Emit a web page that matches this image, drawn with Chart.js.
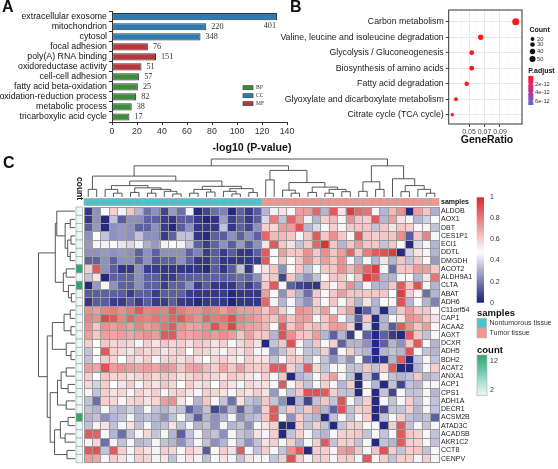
<!DOCTYPE html>
<html>
<head>
<meta charset="utf-8">
<title>GO, KEGG and heatmap</title>
<script src="https://cdn.jsdelivr.net/npm/chart.js@4.4.1/dist/chart.umd.min.js"></script>
<style>
html,body{margin:0;padding:0;background:#fff;}
#wrap{position:relative;width:558px;height:469px;overflow:hidden;background:#fff;}
canvas{position:absolute;display:block;}
</style>
</head>
<body>
<div id="wrap">
<canvas id="cA" width="300" height="155" style="left:0;top:0"></canvas>
<canvas id="cB" width="288" height="155" style="left:270px;top:0"></canvas>
<canvas id="cC" width="558" height="319" style="left:0;top:150px"></canvas>
</div>
<script>
const F = "'Liberation Sans', Arial, Helvetica, sans-serif";
const FS = "'Liberation Serif', 'Times New Roman', serif";
Chart.defaults.font.family = F;
Chart.defaults.color = '#222';

/* ---------------- Panel A : GO terms ---------------- */
const goTerms = ['extracellular exosome','mitochondrion','cytosol','focal adhesion','poly(A) RNA binding','oxidoreductase activity','cell-cell adhesion','fatty acid beta-oxidation','oxidation-reduction process','metabolic process','tricarboxylic acid cycle'];
const goLogP = [132, 75.4, 70.8, 28.7, 35.2, 23.6, 21.7, 20.7, 19.3, 15.8, 13.9];
const goGeneCounts = [401, 220, 348, 76, 151, 51, 57, 25, 82, 38, 17];
const goClass = ['CC','CC','CC','MF','MF','MF','BP','BP','BP','BP','BP'];
const goClassOrder = ['BP','CC','MF'];
const goClassColor = {BP:'#3d8c3b', CC:'#2b7cb3', MF:'#b8373c'};

/* ---------------- Panel B : KEGG dot plot ---------------- */
const keggTerms = ['Carbon metabolism','Valine, leucine and isoleucine degradation','Glycolysis / Gluconeogenesis','Biosynthesis of amino acids','Fatty acid degradation','Glyoxylate and dicarboxylate metabolism','Citrate cycle (TCA cycle)'];
const keggRatio = [0.1103, 0.0651, 0.0535, 0.0535, 0.047, 0.0332, 0.0285];
const keggCount = [50, 30, 24, 24, 21, 15, 13];
const keggPadj = [2.1e-19, 5.6e-15, 3.9e-14, 8.1e-14, 1.6e-13, 2.9e-13, 4.4e-13];
const ratioMajorTicks = [0.05, 0.07, 0.09];
const ratioMinorTicks = [0.03, 0.04, 0.06, 0.08, 0.10, 0.11];
const countLegendValues = [20, 30, 40, 50];
const padjLegendValues = [2e-12, 4e-12, 6e-12];
const padjLegendLabels = ['2e-12', '4e-12', '6e-12'];

/* ---------------- Panel C : heatmap ---------------- */
const sampleIds = ['N1','N2','N3','N4','N5','N6','N7','N8','N9','N10','N11','N12','N13','N14','N15','N16','N17','N18','N19','N20','N21',
                   'T1','T2','T3','T4','T5','T6','T7','T8','T9','T10','T11','T12','T13','T14','T15','T16','T17','T18','T19','T20','T21'];
const sampleGroupNames = ['Nontumorous tissue','Tumor tissue'];
const sampleGroupColors = ['#48c4cf','#f3958f'];
const geneNames = ['ALDOB','AOX1','DBT','CES1P1','ECI1','DDTL','DMGDH','ACOT2','ALDH9A1','CLTA','ABAT','ADH6','C11orf54','CAP1','ACAA2','AGXT','DCXR','ADH5','BDH2','ACAT2','ANXA1','ACP1','CPS1','ADH1A','DECR1','ACSM2B','ATAD3C','ACADSB','AKR1C2','CCT8','CENPV'];
const geneCounts = [2,2,2,2,2,2,2,12,2,12,2,2,2,2,2,2,2,2,2,2,2,2,2,2,2,12,2,2,2,2,2];
const heatTicks = [1, 0.8, 0.6, 0.4, 0.2, 0];
const countTicks = [12, 2];

const hm_ALDOB = [0.05,0.24,0.47,0.6,0.45,0.62,0.32,0.17,0.24,0.08,0.26,0.17,0.45,0.02,0.08,0.17,0.21,0.02,0.14,0.06,0.13,
                  0.32,0.45,0.55,0.46,0.72,0.72,0.85,0.32,0.88,0.55,0.95,0.85,0.82,0.46,0.32,0.65,0.75,0.02,0.72,0.62,0.31];
const hm_AOX1 = [0.05,0.24,0.02,0.35,0.13,0.24,0.24,0.14,0.14,0.06,0.05,0.13,0.13,0.05,0.01,0.04,0.27,0.07,0.13,0.06,0.13,
                 0.4,0.8,0.35,0.85,0.72,0.45,0.32,0.6,0.65,0.46,0.75,0.62,0.6,0.88,0.32,0.72,0.55,0.46,0.32,0.38,0.47];
const hm_DBT = [0.13,0.26,0.02,0.24,0.26,0.24,0.14,0.14,0.24,0.06,0.02,0.13,0.24,0.05,0.05,0.05,0.35,0.05,0.14,0.08,0.24,
                0.6,0.58,0.72,0.72,0.9,0.32,0.4,0.46,0.6,0.46,0.62,0.62,0.62,0.35,0.62,0.55,0.62,0.6,0.5,0.46,0.35];
const hm_CES1P1 = [0.24,0.47,0.35,0.24,0.26,0.24,0.35,0.24,0.24,0.06,0.14,0.35,0.35,0.05,0.02,0.14,0.13,0.24,0.14,0.24,0.14,
                   0.85,0.65,0.65,0.62,0.46,0.62,0.88,0.62,0.75,0.62,0.46,0.88,0.62,0.6,0.62,0.62,0.75,0.13,0.62,0.78,0.46];
const hm_ECI1 = [0.26,0.46,0.45,0.47,0.43,0.4,0.45,0.31,0.26,0.45,0.47,0.45,0.35,0.14,0.06,0.14,0.24,0.13,0.26,0.13,0.24,
                 0.55,0.88,0.62,0.55,0.35,0.62,0.85,0.98,0.62,0.32,0.62,0.72,0.62,0.62,0.35,0.62,0.46,0.02,0.4,0.46,0.32];
const hm_DDTL = [0.24,0.24,0.26,0.24,0.26,0.24,0.14,0.24,0.14,0.24,0.24,0.24,0.14,0.21,0.06,0.13,0.06,0.13,0.05,0.05,0.14,
                 0.88,0.5,0.72,0.62,0.62,0.75,0.62,0.75,0.62,0.72,0.85,0.62,0.8,0.88,0.9,0.95,0.02,0.38,0.55,0.46,0.32];
const hm_DMGDH = [0.14,0.14,0.24,0.14,0.24,0.24,0.14,0.24,0.11,0.14,0.14,0.24,0.14,0.05,0.05,0.13,0.05,0.05,0.05,0.05,0.06,
                  0.88,0.48,0.62,0.5,0.62,0.75,0.62,0.72,0.62,0.75,0.46,0.32,0.46,0.32,0.55,0.32,0.62,0.35,0.62,0.5,0.26];
const hm_ACOT2 = [0.6,0.88,0.24,0.13,0.05,0.05,0.24,0.06,0.06,0.05,0.05,0.05,0.04,0.05,0.02,0.13,0.05,0.13,0.35,0.05,0.46,
                  0.55,0.62,0.24,0.5,0.62,0.35,0.46,0.62,0.62,0.75,0.65,0.75,0.85,0.95,0.46,0.17,0.62,0.62,0.72,0.72,0.62];
const hm_ALDH9A1 = [0.35,0.55,0.02,0.14,0.14,0.14,0.24,0.14,0.14,0.06,0.06,0.13,0.13,0.14,0.13,0.14,0.13,0.14,0.17,0.14,0.24,
                    0.58,0.62,0.08,0.62,0.32,0.24,0.35,0.5,0.62,0.62,0.46,0.62,0.95,0.88,0.32,0.32,0.46,0.5,0.32,0.55,0.82];
const hm_CLTA = [0.02,0.26,0.46,0.24,0.14,0.14,0.24,0.14,0.14,0.06,0.14,0.14,0.24,0.06,0.13,0.05,0.05,0.05,0.14,0.06,0.14,
                 0.62,0.88,0.46,0.14,0.08,0.06,0.05,0.6,0.46,0.62,0.75,0.32,0.46,0.32,0.32,0.62,0.88,0.62,0.9,0.46,0.32];
const hm_ABAT = [0.13,0.13,0.14,0.14,0.13,0.06,0.14,0.13,0.06,0.13,0.13,0.14,0.06,0.05,0.05,0.05,0.06,0.02,0.05,0.05,0.05,
                 0.72,0.5,0.24,0.62,0.32,0.17,0.62,0.46,0.62,0.72,0.62,0.62,0.62,0.62,0.62,0.48,0.95,0.6,0.46,0.17,0.32];
const hm_ADH6 = [0.05,0.13,0.13,0.06,0.06,0.13,0.06,0.13,0.06,0.06,0.13,0.06,0.05,0.02,0.05,0.06,0.05,0.01,0.05,0.05,0.05,
                 0.85,0.45,0.32,0.46,0.32,0.24,0.6,0.46,0.62,0.46,0.62,0.32,0.55,0.32,0.46,0.46,0.9,0.32,0.5,0.32,0.21];
const hm_C11orf54 = [0.75,0.72,0.78,0.8,0.75,0.8,0.88,0.78,0.8,0.78,0.88,0.8,0.75,0.75,0.8,0.78,0.72,0.78,0.72,0.72,0.7,
                     0.62,0.72,0.6,0.46,0.75,0.72,0.62,0.72,0.46,0.62,0.72,0.02,0.14,0.32,0.02,0.32,0.62,0.72,0.62,0.62,0.46];
const hm_CAP1 = [0.78,0.75,0.92,0.88,0.78,0.85,0.8,0.78,0.82,0.8,0.85,0.88,0.8,0.75,0.85,0.8,0.82,0.9,0.78,0.75,0.72,
                 0.65,0.62,0.75,0.62,0.72,0.72,0.46,0.62,0.72,0.46,0.35,0.14,0.62,0.02,0.32,0.46,0.55,0.75,0.72,0.62,0.55];
const hm_ACAA2 = [0.75,0.62,0.75,0.72,0.75,0.72,0.78,0.72,0.75,0.82,0.88,0.75,0.7,0.72,0.75,0.9,0.78,0.92,0.75,0.72,0.7,
                  0.65,0.5,0.88,0.62,0.72,0.62,0.65,0.62,0.72,0.72,0.6,0.02,0.4,0.02,0.32,0.13,0.88,0.75,0.62,0.72,0.46];
const hm_AGXT = [0.72,0.62,0.72,0.7,0.72,0.7,0.72,0.75,0.72,0.88,0.88,0.72,0.7,0.72,0.75,0.72,0.75,0.72,0.62,0.72,0.62,
                 0.62,0.32,0.9,0.75,0.62,0.62,0.72,0.32,0.14,0.32,0.06,0.46,0.14,0.02,0.14,0.06,0.02,0.88,0.62,0.35,0.46];
const hm_DCXR = [0.6,0.48,0.62,0.58,0.6,0.58,0.46,0.6,0.55,0.62,0.58,0.6,0.56,0.62,0.6,0.55,0.6,0.46,0.58,0.62,0.55,
                 0.02,0.35,0.62,0.9,0.46,0.35,0.62,0.46,0.6,0.14,0.32,0.32,0.24,0.02,0.14,0.32,0.24,0.62,0.88,0.46,0.32];
const hm_ADH5 = [0.35,0.48,0.88,0.6,0.58,0.55,0.62,0.58,0.6,0.55,0.58,0.62,0.48,0.6,0.58,0.55,0.46,0.58,0.55,0.62,0.46,
                 0.46,0.26,0.35,0.6,0.46,0.35,0.35,0.6,0.14,0.46,0.6,0.35,0.32,0.02,0.32,0.35,0.32,0.9,0.46,0.35,0.32];
const hm_BDH2 = [0.35,0.48,0.6,0.58,0.48,0.6,0.55,0.6,0.46,0.58,0.6,0.56,0.6,0.55,0.48,0.58,0.6,0.55,0.46,0.6,0.55,
                 0.55,0.35,0.46,0.62,0.6,0.35,0.46,0.35,0.24,0.35,0.24,0.46,0.14,0.02,0.05,0.32,0.88,0.02,0.35,0.46,0.35];
const hm_ACAT2 = [0.72,0.7,0.9,0.72,0.75,0.72,0.7,0.72,0.7,0.75,0.72,0.62,0.7,0.72,0.65,0.6,0.7,0.62,0.72,0.62,0.6,
                  0.62,0.88,0.88,0.6,0.35,0.88,0.58,0.35,0.46,0.46,0.35,0.35,0.62,0.35,0.6,0.88,0.02,0.02,0.32,0.46,0.6];
const hm_ANXA1 = [0.6,0.48,0.62,0.58,0.6,0.55,0.58,0.62,0.58,0.62,0.6,0.55,0.58,0.62,0.6,0.58,0.55,0.62,0.58,0.55,0.46,
                  0.6,0.46,0.62,0.02,0.32,0.35,0.46,0.62,0.72,0.46,0.35,0.02,0.35,0.08,0.46,0.35,0.32,0.35,0.62,0.32,0.35];
const hm_ACP1 = [0.58,0.38,0.6,0.48,0.55,0.6,0.46,0.58,0.55,0.62,0.58,0.48,0.6,0.55,0.58,0.48,0.6,0.55,0.46,0.58,0.55,
                 0.55,0.46,0.88,0.46,0.6,0.35,0.46,0.6,0.46,0.32,0.6,0.02,0.46,0.32,0.02,0.35,0.08,0.35,0.32,0.46,0.46];
const hm_CPS1 = [0.46,0.35,0.6,0.55,0.58,0.46,0.6,0.55,0.6,0.46,0.58,0.6,0.55,0.46,0.6,0.58,0.55,0.46,0.58,0.55,0.6,
                 0.55,0.26,0.46,0.35,0.62,0.9,0.9,0.88,0.6,0.35,0.35,0.02,0.46,0.02,0.35,0.08,0.46,0.35,0.35,0.46,0.32];
const hm_ADH1A = [0.35,0.17,0.6,0.58,0.46,0.58,0.6,0.55,0.58,0.72,0.75,0.55,0.48,0.32,0.62,0.46,0.35,0.17,0.55,0.35,0.32,
                  0.62,0.35,0.24,0.02,0.32,0.08,0.35,0.62,0.35,0.9,0.46,0.35,0.6,0.02,0.46,0.35,0.46,0.6,0.35,0.46,0.35];
const hm_DECR1 = [0.35,0.32,0.46,0.35,0.32,0.38,0.32,0.46,0.35,0.32,0.38,0.35,0.14,0.24,0.35,0.08,0.17,0.32,0.14,0.32,0.24,
                  0.6,0.88,0.35,0.62,0.35,0.62,0.72,0.32,0.14,0.9,0.35,0.6,0.62,0.02,0.08,0.35,0.35,0.6,0.32,0.46,0.35];
const hm_ACSM2B = [0.32,0.35,0.24,0.32,0.35,0.46,0.32,0.35,0.32,0.24,0.35,0.46,0.32,0.14,0.32,0.24,0.32,0.46,0.24,0.32,0.35,
                   0.62,0.88,0.46,0.24,0.6,0.35,0.32,0.02,0.35,0.46,0.35,0.46,0.6,0.02,0.35,0.46,0.6,0.35,0.32,0.35,0.14];
const hm_ATAD3C = [0.35,0.46,0.55,0.35,0.46,0.55,0.35,0.46,0.32,0.35,0.55,0.35,0.46,0.32,0.35,0.24,0.46,0.32,0.35,0.24,0.46,
                   0.55,0.6,0.02,0.02,0.6,0.35,0.6,0.35,0.02,0.35,0.6,0.6,0.46,0.46,0.02,0.6,0.88,0.35,0.46,0.35,0.46];
const hm_ACADSB = [0.88,0.86,0.46,0.32,0.17,0.35,0.46,0.58,0.35,0.46,0.32,0.14,0.35,0.46,0.32,0.35,0.24,0.46,0.35,0.32,0.55,
                   0.46,0.6,0.02,0.35,0.6,0.46,0.35,0.32,0.46,0.6,0.6,0.62,0.35,0.46,0.35,0.46,0.88,0.62,0.6,0.46,0.35];
const hm_AKR1C2 = [0.46,0.58,0.17,0.46,0.35,0.46,0.32,0.35,0.46,0.35,0.32,0.24,0.35,0.46,0.35,0.24,0.32,0.46,0.35,0.24,0.35,
                   0.55,0.6,0.46,0.6,0.32,0.46,0.6,0.88,0.35,0.6,0.6,0.35,0.46,0.02,0.35,0.32,0.88,0.6,0.6,0.46,0.35];
const hm_CCT8 = [0.88,0.9,0.35,0.88,0.6,0.46,0.6,0.55,0.46,0.6,0.58,0.46,0.6,0.55,0.13,0.46,0.6,0.55,0.88,0.46,0.35,
                 0.6,0.46,0.35,0.75,0.88,0.02,0.6,0.6,0.46,0.72,0.75,0.62,0.46,0.62,0.9,0.6,0.35,0.6,0.62,0.35,0.46];
const hm_CENPV = [0.72,0.7,0.46,0.6,0.55,0.46,0.6,0.58,0.46,0.55,0.35,0.46,0.55,0.46,0.35,0.46,0.55,0.46,0.35,0.55,0.46,
                  0.46,0.35,0.6,0.9,0.6,0.46,0.6,0.6,0.46,0.6,0.6,0.46,0.88,0.46,0.6,0.35,0.6,0.6,0.46,0.6,0.46];

const heatRows = [hm_ALDOB,hm_AOX1,hm_DBT,hm_CES1P1,hm_ECI1,hm_DDTL,hm_DMGDH,hm_ACOT2,hm_ALDH9A1,hm_CLTA,hm_ABAT,hm_ADH6,
  hm_C11orf54,hm_CAP1,hm_ACAA2,hm_AGXT,hm_DCXR,hm_ADH5,hm_BDH2,hm_ACAT2,hm_ANXA1,hm_ACP1,hm_CPS1,hm_ADH1A,hm_DECR1,
  hm_ACSM2B,hm_ATAD3C,hm_ACADSB,hm_AKR1C2,hm_CCT8,hm_CENPV];

/* dendrograms: [left, right, height]; leaves are sample / gene indices */
const colTree = [
  [ [ [0,1,0.2],
      [ [ [2,[3,4,0.1],0.2], [[5,6,0.12],[[7,8,0.1],[9,[10,11,0.08],0.15],0.2],0.24], 0.3 ],
        [ [[12,13,0.1],[14,15,0.13],0.2], [[16,[17,18,0.08],0.15],[19,20,0.12],0.22], 0.28 ],
        0.42 ],
      0.55 ],
    [ [21,22,0.45],
      [ [23,[24,25,0.1],0.18], [[26,27,0.12],[[28,29,0.1],[30,31,0.14],0.2],0.26], 0.38 ],
      0.7 ],
    0.82 ],
  [ [[32,33,0.15],[34,35,0.2],0.4],
    [36,[[37,38,0.14],[39,[40,41,0.1],0.2],0.3],0.48],
    0.82 ],
  1.0 ];
const rowTree = [
  [ [0, [[1,2,0.13],[[3,4,0.11],[5,6,0.13],0.2],0.27], 0.5],
    [[7,8,0.24],[9,[10,11,0.1],0.18],0.32],
    0.54 ],
  [ [ [[12,13,0.13],[14,15,0.11],0.3], [16,[17,18,0.11],0.24], 0.62 ],
    [ [[[19,20,0.24],[21,22,0.19],0.38],[23,24,0.24],0.48],
      [[[25,26,0.19],[27,28,0.27],0.4],[29,30,0.22],0.56], 0.68 ],
    0.76 ],
  1.0 ];

/* ---------------- colour helpers ---------------- */
function mix(a, b, t){ return a.map((c,i)=>Math.round(c + (b[i]-c)*t)); }
function rgb(c){ return 'rgb(' + c.join(',') + ')'; }
const heatLow = [28,32,122], heatMid = [255,255,255], heatHigh = [214,42,44], heatMidAt = 0.48;
function heatColor(v){
  if (v === undefined || v === null || isNaN(v)) return '#ffffff';
  v = Math.max(0, Math.min(1, v));
  return v <= heatMidAt ? rgb(mix(heatLow, heatMid, v/heatMidAt)) : rgb(mix(heatMid, heatHigh, (v-heatMidAt)/(1-heatMidAt)));
}
const countStops = [[2,[234,247,249]],[5,[180,226,225]],[8,[108,200,166]],[12,[46,167,106]]];
function countColor(n){
  for (let i=1;i<countStops.length;i++){
    if (n <= countStops[i][0]) { const a=countStops[i-1], b=countStops[i]; return rgb(mix(a[1], b[1], (n-a[0])/(b[0]-a[0]))); }
  }
  return rgb(countStops[countStops.length-1][1]);
}
const padjStops = [[0,[255,26,26]],[0.33,[226,34,112]],[0.66,[160,58,168]],[1,[86,108,208]]];
const padjMin = 1.1e-13, padjMax = 6.94e-12;
function padjColorT(t){
  t = Math.max(0, Math.min(1, t));
  for (let i=1;i<padjStops.length;i++){
    if (t <= padjStops[i][0]) { const a=padjStops[i-1], b=padjStops[i]; return rgb(mix(a[1], b[1], (t-a[0])/(b[0]-a[0]))); }
  }
  return rgb(padjStops[padjStops.length-1][1]);
}
function padjColor(p){ return padjColorT((p - padjMin)/(padjMax - padjMin)); }
function sizeOf(count){ return 0.5*Math.sqrt(count); }
function isMajorRatio(v){ return ratioMajorTicks.some(m => Math.abs(m - v) < 1e-9); }

/* ---------------- Chart A ---------------- */
const plugA = {
  id:'plugA',
  afterDatasetsDraw(chart){
    const {ctx, chartArea:ca} = chart;
    const meta = chart.getDatasetMeta(0);
    ctx.save();
    ctx.font = '8.2px ' + FS; ctx.fillStyle = '#333'; ctx.textBaseline = 'middle';
    meta.data.forEach((bar, i) => {
      const txt = String(goGeneCounts[i]);
      const w = ctx.measureText(txt).width;
      if (bar.x + 5 + w > ca.right) { ctx.textAlign = 'right'; ctx.fillText(txt, bar.x - 1, bar.y + 9.5); }
      else { ctx.textAlign = 'left'; ctx.fillText(txt, bar.x + 5, bar.y); }
    });
    goClassOrder.forEach((k, j) => {
      const y = 87.7 + j*8;
      ctx.fillStyle = goClassColor[k]; ctx.fillRect(243, y-2, 10, 4);
      ctx.strokeStyle = '#333'; ctx.lineWidth = 0.6; ctx.strokeRect(243, y-2, 10, 4);
      ctx.fillStyle = '#333'; ctx.font = '5.5px ' + FS; ctx.textAlign = 'left'; ctx.fillText(k, 256, y);
    });
    ctx.fillStyle = '#111'; ctx.font = 'bold 10.6px ' + F; ctx.textAlign = 'center';
    ctx.fillText('-log10 (P-value)', 252, 148);
    ctx.font = 'bold 16px ' + F; ctx.textAlign = 'left';
    ctx.fillText('A', 2, 8);
    ctx.restore();
  }
};
new Chart(document.getElementById('cA'), {
  type:'bar',
  data:{ labels: goTerms, datasets:[{ data: goLogP, backgroundColor: goClass.map(c => goClassColor[c]),
         borderColor:'#3a3a3a', borderWidth:1, borderSkipped:false, barPercentage:0.72, categoryPercentage:1 }]},
  options:{
    indexAxis:'y', responsive:false, animation:false, events:[],
    layout:{ padding:{ left:0, right:13, top:11.7, bottom:0 } },
    plugins:{ legend:{display:false}, tooltip:{enabled:false} },
    scales:{
      x:{ min:0, max:140, ticks:{ stepSize:20, font:{size:8.8}, color:'#333', padding:1, maxRotation:0 },
          grid:{ drawOnChartArea:false, tickLength:3, tickColor:'#333' }, border:{ color:'#333' },
          afterFit: s => { s.height = 33; } },
      y:{ ticks:{ font:{size:8.8}, color:'#111', padding:2, autoSkip:false },
          grid:{ drawOnChartArea:false, tickLength:3, tickColor:'#333' }, border:{ color:'#333' },
          afterFit: s => { s.width = 112; } }
    }
  },
  plugins:[plugA]
});

/* ---------------- Chart B ---------------- */
const plugB = {
  id:'plugB',
  beforeDatasetsDraw(chart){
    const {ctx, chartArea:ca} = chart;
    ctx.save(); ctx.strokeStyle = '#333'; ctx.lineWidth = 1;
    ctx.strokeRect(ca.left, ca.top, ca.right - ca.left, ca.bottom - ca.top);
    ctx.restore();
  },
  afterDraw(chart){
    const ctx = chart.ctx;
    ctx.save();
    ctx.fillStyle = '#111'; ctx.textBaseline = 'middle'; ctx.textAlign = 'left';
    ctx.font = 'bold 16px ' + F; ctx.fillText('B', 20, 8);
    ctx.font = 'bold 10.5px ' + F; ctx.textAlign = 'center'; ctx.fillText('GeneRatio', 217, 140);
    // Count legend
    ctx.textAlign = 'left'; ctx.font = 'bold 7px ' + F; ctx.fillText('Count', 259.5, 30);
    const ly = [39, 44.5, 51.5, 59];
    countLegendValues.forEach((c, i) => {
      ctx.fillStyle = '#111'; ctx.beginPath(); ctx.arc(262.5, ly[i], sizeOf(c)*0.85, 0, Math.PI*2); ctx.fill();
      ctx.font = '5.8px ' + F; ctx.fillStyle = '#333'; ctx.fillText(String(c), 267, ly[i]);
    });
    // P.adjust legend
    ctx.fillStyle = '#111'; ctx.font = 'bold 7px ' + F; ctx.fillText('P.adjust', 258.3, 70.7);
    const gy0 = 76, gy1 = 105;
    const g = ctx.createLinearGradient(0, gy0, 0, gy1);
    for (let k=0;k<=10;k++) g.addColorStop(k/10, padjColorT(k/10));
    ctx.fillStyle = g; ctx.fillRect(258.3, gy0, 5, gy1 - gy0);
    ctx.font = '5.8px ' + F; ctx.fillStyle = '#333';
    padjLegendValues.forEach((p, i) => {
      const y = gy0 + (p - padjMin)/(padjMax - padjMin)*(gy1 - gy0);
      ctx.strokeStyle = '#fff'; ctx.lineWidth = 0.6;
      ctx.beginPath(); ctx.moveTo(258.3, y); ctx.lineTo(259.5, y); ctx.moveTo(262.1, y); ctx.lineTo(263.3, y); ctx.stroke();
      ctx.fillText(padjLegendLabels[i], 265, y);
    });
    ctx.restore();
  }
};
new Chart(document.getElementById('cB'), {
  type:'bubble',
  data:{ datasets:[{ data: keggTerms.map((t,i) => ({ x: keggRatio[i], y: i, r: sizeOf(keggCount[i]) })),
                     backgroundColor: keggPadj.map(padjColor), borderWidth:0 }]},
  options:{
    responsive:false, animation:false, events:[],
    layout:{ padding:{ left:0, right:36, top:10, bottom:0 } },
    plugins:{ legend:{display:false}, tooltip:{enabled:false} },
    scales:{
      x:{ type:'linear', min:0.0238, max:0.1184,
          afterBuildTicks: s => { s.ticks = ratioMajorTicks.concat(ratioMinorTicks).sort((a,b)=>a-b).map(v => ({value:v})); },
          ticks:{ autoSkip:false, maxRotation:0, font:{size:7}, color:'#444', padding:1,
                  callback: v => isMajorRatio(v) ? v.toFixed(2) : '' },
          grid:{ color: c => (c.tick && isMajorRatio(c.tick.value)) ? '#e4e4e4' : '#f2f2f2',
                 lineWidth: c => (c.tick && isMajorRatio(c.tick.value)) ? 0.9 : 0.6,
                 tickLength:3, tickColor: c => (c.tick && isMajorRatio(c.tick.value)) ? '#333' : 'rgba(0,0,0,0)' },
          border:{ display:false },
          afterFit: s => { s.height = 31; } },
      y:{ type:'linear', min:-0.76, max:6.6, reverse:true,
          afterBuildTicks: s => { s.ticks = keggTerms.map((t,i) => ({value:i})); },
          ticks:{ autoSkip:false, font:{size:8.75}, color:'#1a1a1a', padding:2, callback: v => keggTerms[v] },
          grid:{ color:'#e4e4e4', lineWidth:0.9, tickLength:3, tickColor:'#333' },
          border:{ display:false },
          afterFit: s => { s.width = 178.7; } }
    }
  },
  plugins:[plugB]
});

/* ---------------- Chart C ---------------- */
function walkTree(node, leafPos, drawU){
  if (typeof node === 'number') return { p: leafPos(node), h: 0 };
  const a = walkTree(node[0], leafPos, drawU), b = walkTree(node[1], leafPos, drawU), h = node[2];
  drawU(a, b, h);
  return { p: (a.p + b.p)/2, h };
}
const plugC = {
  id:'plugC',
  afterDraw(chart){
    const {ctx, chartArea:ca} = chart;
    const xs = chart.scales.x, ys = chart.scales.y;
    const cw = xs.getPixelForValue(1) - xs.getPixelForValue(0);
    ctx.save();
    // sample annotation row
    sampleIds.forEach((s, i) => {
      const cx = xs.getPixelForValue(i);
      const gi = s.charAt(0) === 'N' ? 0 : 1;
      ctx.fillStyle = sampleGroupColors[gi];
      ctx.fillRect(cx - cw/2, 48.5, cw, 7);
      ctx.strokeStyle = '#a6a6a6'; ctx.lineWidth = 0.7; ctx.strokeRect(cx - cw/2, 48.5, cw, 7);
    });
    // count annotation column
    geneNames.forEach((g, i) => {
      const y0 = ys.getPixelForValue(i), y1 = ys.getPixelForValue(i+1);
      ctx.fillStyle = countColor(geneCounts[i]);
      ctx.fillRect(76, y0, 6.6, y1 - y0);
      ctx.strokeStyle = '#a6a6a6'; ctx.lineWidth = 0.7; ctx.strokeRect(76, y0, 6.6, y1 - y0);
    });
    // dendrograms
    ctx.strokeStyle = '#444'; ctx.lineWidth = 0.9;
    const colBase = 47, colSpan = 38;
    ctx.beginPath();
    walkTree(colTree, i => xs.getPixelForValue(i), (a, b, h) => {
      const Y = v => colBase - v*colSpan;
      ctx.moveTo(a.p, Y(a.h)); ctx.lineTo(a.p, Y(h)); ctx.lineTo(b.p, Y(h)); ctx.lineTo(b.p, Y(b.h));
    });
    ctx.stroke();
    const rowBase = 75, rowSpan = 36.5;
    ctx.beginPath();
    walkTree(rowTree, i => ys.getPixelForValue(i + 0.5), (a, b, h) => {
      const X = v => rowBase - v*rowSpan;
      ctx.moveTo(X(a.h), a.p); ctx.lineTo(X(h), a.p); ctx.lineTo(X(h), b.p); ctx.lineTo(X(b.h), b.p);
    });
    ctx.stroke();
    // texts
    ctx.fillStyle = '#111'; ctx.textBaseline = 'middle'; ctx.textAlign = 'left';
    ctx.font = 'bold 16px ' + F; ctx.fillText('C', 3, 14);
    ctx.font = 'bold 7px ' + F; ctx.fillText('samples', ca.right + 2, 52);
    ctx.save(); ctx.translate(79.3, 27); ctx.rotate(Math.PI/2);
    ctx.font = 'bold 8.5px ' + F; ctx.fillText('count', 0, 0); ctx.restore();
    // heat legend
    const hx = 476.7, hy0 = 47.3, hy1 = 152.7;
    const hg = ctx.createLinearGradient(0, hy0, 0, hy1);
    for (let k=0;k<=40;k++) hg.addColorStop(k/40, heatColor(1 - k/40));
    ctx.fillStyle = hg; ctx.fillRect(hx, hy0, 7.3, hy1 - hy0);
    ctx.fillStyle = '#333'; ctx.font = '7px ' + F;
    heatTicks.forEach(v => { ctx.fillText(String(v), 490, hy0 + (1 - v)*(hy1 - hy0)); });
    // samples legend
    ctx.fillStyle = '#111'; ctx.font = 'bold 9.5px ' + F; ctx.fillText('samples', 477, 163.3);
    sampleGroupNames.forEach((n, i) => {
      const y = 168.3 + i*9.8;
      ctx.fillStyle = sampleGroupColors[i]; ctx.fillRect(477, y, 9.7, 9.8);
      ctx.strokeStyle = '#b5b5b5'; ctx.lineWidth = 0.7; ctx.strokeRect(477, y, 9.7, 9.8);
      ctx.fillStyle = '#333'; ctx.font = '7px ' + F; ctx.fillText(n, 489.5, y + 4.9);
    });
    // count legend
    ctx.fillStyle = '#111'; ctx.font = 'bold 9.5px ' + F; ctx.fillText('count', 477, 200.7);
    const cy0 = 205, cy1 = 245.7;
    const cg = ctx.createLinearGradient(0, cy0, 0, cy1);
    for (let k=0;k<=10;k++) cg.addColorStop(k/10, countColor(12 - k));
    ctx.fillStyle = cg; ctx.fillRect(477, cy0, 10, cy1 - cy0);
    ctx.strokeStyle = '#b5b5b5'; ctx.lineWidth = 0.7; ctx.strokeRect(477, cy0, 10, cy1 - cy0);
    ctx.fillStyle = '#333'; ctx.font = '7px ' + F;
    countTicks.forEach(v => { ctx.fillText(String(v), 490, cy0 + 6 + (12 - v)/10*(cy1 - cy0 - 11.7)); });
    ctx.restore();
  }
};
new Chart(document.getElementById('cC'), {
  type:'bar',
  data:{ labels: sampleIds,
         datasets: geneNames.map((g, r) => ({ label: g, data: sampleIds.map(() => 1),
                   backgroundColor: heatRows[r].map(heatColor), borderWidth:0,
                   barPercentage:1, categoryPercentage:1, stack:'heat' })) },
  options:{
    responsive:false, animation:false, events:[],
    layout:{ padding:{ left:84, right:0, top:57, bottom:0.5 } },
    plugins:{ legend:{display:false}, tooltip:{enabled:false} },
    scales:{
      x:{ type:'category', stacked:true, offset:true,
          grid:{ display:true, offset:true, color:'#9c9c9c', lineWidth:1, drawTicks:false, z:1 },
          ticks:{ display:false, autoSkip:false }, border:{ display:false },
          afterFit: s => { s.height = 0; } },
      y:{ type:'linear', stacked:true, min:0, max:31, reverse:true, position:'left',
          ticks:{ display:false, stepSize:1, maxTicksLimit:100 },
          grid:{ color:'#9c9c9c', lineWidth:1, drawTicks:false, z:1 }, border:{ display:false },
          afterFit: s => { s.width = 0; } },
      yLab:{ type:'category', labels: geneNames, position:'right', offset:true,
          grid:{ display:false, drawTicks:false }, border:{ display:false },
          ticks:{ font:{size:7}, color:'#222', padding:2, autoSkip:false },
          afterFit: s => { s.width = 119; } }
    }
  },
  plugins:[plugC]
});
</script>
</body>
</html>
